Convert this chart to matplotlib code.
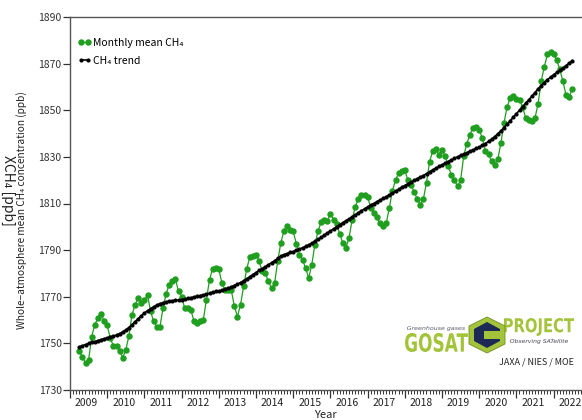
import numpy as np
import matplotlib.pyplot as plt
from matplotlib.patches import Polygon, PathPatch
from matplotlib.textpath import TextPath
from matplotlib.font_manager import FontProperties
from matplotlib.transforms import Affine2D

plt.rcParams['font.family'] = ['Noto Sans CJK JP', 'DejaVu Sans']

# GOSAT whole-atmosphere CH4, monthly from April 2009 to July 2022 (ppb)
start_year, start_month = 2009, 4
ch4_monthly = [
    1746.8, 1744.1, 1741.5, 1742.9, 1752.9, 1758.0, 1760.8, 1762.6, 1759.8,
    1757.7, 1752.2, 1748.9, 1748.9, 1746.9, 1743.9, 1747.2, 1753.2, 1762.3, 1766.6, 1769.4, 1767.5,
    1768.4, 1770.9, 1763.7, 1759.4, 1757.0, 1757.0, 1765.1, 1771.3, 1775.2, 1776.6, 1777.7, 1772.3,
    1770.1, 1765.1, 1765.1, 1764.4, 1759.4, 1758.9, 1759.4, 1760.1, 1768.7, 1777.3, 1782.0, 1782.2,
    1781.8, 1775.9, 1772.8, 1773.0, 1773.0, 1766.1, 1761.5, 1766.6, 1774.4, 1782.0, 1787.0, 1787.3,
    1788.1, 1785.2, 1780.9, 1780.1, 1776.6, 1773.7, 1775.9, 1785.2, 1793.1, 1798.1, 1800.5, 1798.8,
    1798.1, 1792.8, 1788.1, 1785.9, 1782.3, 1778.0, 1783.8, 1792.4, 1798.1, 1802.0, 1803.1, 1802.4,
    1805.7, 1803.1, 1801.0, 1797.0, 1793.0, 1791.0, 1795.0, 1803.0, 1808.5, 1812.0, 1813.5, 1813.5,
    1813.0, 1808.0, 1806.0, 1804.0, 1801.5, 1800.5, 1801.5, 1808.0, 1815.5, 1820.0, 1823.0, 1824.0,
    1824.2, 1820.0, 1818.0, 1815.0, 1812.0, 1809.5, 1812.0, 1819.0, 1828.0, 1832.5, 1833.2, 1831.0,
    1832.9, 1830.3, 1826.0, 1822.4, 1820.0, 1817.5, 1820.0, 1830.3, 1835.7, 1839.5, 1842.5, 1842.7,
    1841.6, 1838.0, 1832.6, 1831.1, 1828.1, 1826.4, 1829.0, 1836.0, 1844.5, 1851.5, 1855.1, 1856.2,
    1854.7, 1854.5, 1851.3, 1846.7, 1846.0, 1845.6, 1846.7, 1852.8, 1862.5, 1868.6, 1874.0, 1874.8,
    1874.0, 1871.5, 1867.5, 1862.5, 1856.5, 1855.8, 1859.0,
]
ch4_trend = [
    1748.5, 1749.0, 1749.5, 1750.0, 1750.4, 1750.8, 1751.2, 1751.6, 1752.0,
    1752.3, 1752.7, 1753.1, 1753.6, 1754.2, 1754.9, 1755.8, 1756.8, 1758.0, 1759.3, 1760.6, 1761.9,
    1763.0, 1764.0, 1764.9, 1765.7, 1766.4, 1767.0, 1767.4, 1767.8, 1768.1, 1768.3, 1768.5, 1768.6,
    1768.8, 1769.0, 1769.3, 1769.6, 1769.9, 1770.2, 1770.5, 1770.8, 1771.1, 1771.5, 1771.9, 1772.3,
    1772.4, 1772.8, 1773.2, 1773.7, 1774.2, 1774.8, 1775.4, 1776.1, 1776.9, 1777.7, 1778.6, 1779.5,
    1780.4, 1781.3, 1782.1, 1782.9, 1783.7, 1784.6, 1785.5, 1786.5, 1787.4, 1788.0, 1788.5, 1789.0,
    1789.4, 1789.9, 1790.4, 1791.0, 1791.6, 1792.3, 1793.0, 1793.8, 1794.6, 1795.5, 1796.4, 1797.3,
    1798.2, 1799.1, 1800.0, 1800.9, 1801.8, 1802.6, 1803.4, 1804.3, 1805.1, 1806.0, 1806.9, 1807.7,
    1808.5, 1809.3, 1810.0, 1810.8, 1811.5, 1812.2, 1812.9, 1813.7, 1814.5, 1815.3, 1816.1, 1816.9,
    1817.7, 1818.5, 1819.2, 1819.9, 1820.6, 1821.3, 1822.0, 1822.8, 1823.6, 1824.4, 1825.1, 1825.9,
    1826.6, 1827.3, 1828.0, 1828.7, 1829.4, 1830.0, 1830.6, 1831.2, 1831.8, 1832.4, 1833.0, 1833.6,
    1834.2, 1834.9, 1835.7, 1836.6, 1837.6, 1838.7, 1839.9, 1841.2, 1842.6, 1844.0, 1845.5, 1847.0,
    1848.5, 1850.0, 1851.5, 1853.0, 1854.5, 1856.0, 1857.6, 1859.2, 1860.6, 1861.9, 1863.1, 1864.2,
    1865.2, 1866.2, 1867.1, 1868.1, 1869.1, 1870.2, 1871.3,
]
year_labels = list(range(2009, 2023))
y_ticks = list(range(1730, 1891, 20))

W, H = 582, 420
PX_PER_YEAR = 37.2
t = start_year + (start_month - 1 + np.arange(len(ch4_monthly))) / 12.0

fig = plt.figure(figsize=(W / 100, H / 100), dpi=100)
# the frame runs on to 2023, past the right border of the image
ax = fig.add_axes([70 / W, 1 - 390 / H, 14 * PX_PER_YEAR / W, 373 / H])

green = '#1f9e1f'
ax.plot(t, ch4_monthly, color=green, lw=0.9, marker='o', ms=3.6,
        label='Monthly mean CH\u2084', zorder=3)
ax.plot(t, ch4_trend, color='black', lw=1.2, marker='o', ms=2.0,
        label='CH\u2084 trend', zorder=4)

ax.set_xlim(2009, 2023)
ax.set_ylim(1730, 1890)
ax.set_yticks(y_ticks)
ax.set_xticks(np.arange(2009, 2024))
ax.set_xticks(np.arange(2009, 2023, 1 / 12), minor=True)
ax.tick_params(axis='x', which='major', length=6, width=0.9, labelbottom=False, color='#333333')
ax.tick_params(axis='x', which='minor', length=3, width=0.7, color='#333333')
ax.tick_params(axis='y', length=5, width=0.9, labelsize=7.5, labelcolor='#333333',
               color='#333333', pad=1)

for s in ax.spines.values():
    s.set_color('#555555')
    s.set_linewidth(1.0)

# year names sit between the yearly ticks
for yr in year_labels:
    ax.text(yr + 0.5 - 2 / PX_PER_YEAR, -0.022, str(yr), transform=ax.get_xaxis_transform(),
            ha='center', va='top', fontsize=7.5, color='#222222')

ax.legend(loc='upper left', bbox_to_anchor=(78 / W, 1 - 38 / H), bbox_transform=fig.transFigure,
          frameon=False, fontsize=7.5, numpoints=2, handlelength=1.3, handletextpad=0.15,
          labelspacing=0.75, borderpad=0, borderaxespad=0)

fig.text(22 / W, 1 - 210 / H, 'Whole\u2212atmosphere mean CH\u2084 concentration (ppb)',
         rotation=90, ha='center', va='center', fontsize=7.3, color='#222222')
fig.text(325 / W, 1 - 410 / H, 'Year', ha='center', va='top', fontsize=8, color='#222222')
fig.text(8 / W, 1 - 190 / H, 'XCH\u2084 [ppb]', rotation=-90, ha='center', va='center',
         fontsize=10, color='#222222')


def block_text(axl, s, x0, y_top, w, h, color, weight='bold', style='normal'):
    # text outline squeezed into a w x h pixel box
    tp = TextPath((0, 0), s, size=10,
                  prop=FontProperties(family='DejaVu Sans', weight=weight, style=style))
    bb = tp.get_extents()
    tr = (Affine2D().translate(-bb.x0, -bb.y0)
          .scale(w / bb.width, -h / bb.height).translate(x0, y_top + h))
    axl.add_patch(PathPatch(tr.transform_path(tp), fc=color, ec='none'))


# GOSAT project logo, drawn in pixel units
lg = fig.add_axes([400 / W, 1 - 370 / H, 180 / W, 58 / H])
lg.set_xlim(400, 580)
lg.set_ylim(370, 312)
lg.axis('off')
lime = '#a3c43a'
navy = '#1d2a55'
block_text(lg, 'Greenhouse gases', 407, 326, 58, 5, '#5a5a6a', weight='normal', style='italic')
block_text(lg, 'GOSAT', 405, 333, 63, 19, lime)
block_text(lg, 'PROJECT', 504, 318, 70, 18, lime)
block_text(lg, 'Observing SATellite', 510, 339, 58, 5, '#444455', weight='normal', style='italic')
lg.text(574, 362, 'JAXA / NIES / MOE', fontsize=6.5, color='#222222', ha='right', va='center')

cx, cy = 487, 335
hexo = [(cx - 18, cy - 9), (cx, cy - 18), (cx + 18, cy - 9), (cx + 18, cy + 9), (cx, cy + 18), (cx - 18, cy + 9)]
lg.add_patch(Polygon(hexo, closed=True, fc=lime, ec='#6f8f20', lw=0.6))
hexi = [(cx - 13, cy - 6), (cx, cy - 13), (cx + 13, cy - 6), (cx + 13, cy + 6), (cx, cy + 13), (cx - 13, cy + 6)]
lg.add_patch(Polygon(hexi, closed=True, fc=navy, ec='none'))
notch = [(cx - 3, cy - 4), (cx + 14, cy - 4), (cx + 14, cy + 4), (cx - 3, cy + 4)]
lg.add_patch(Polygon(notch, closed=True, fc=lime, ec='none'))

fig.savefig('out.png', dpi=100)
